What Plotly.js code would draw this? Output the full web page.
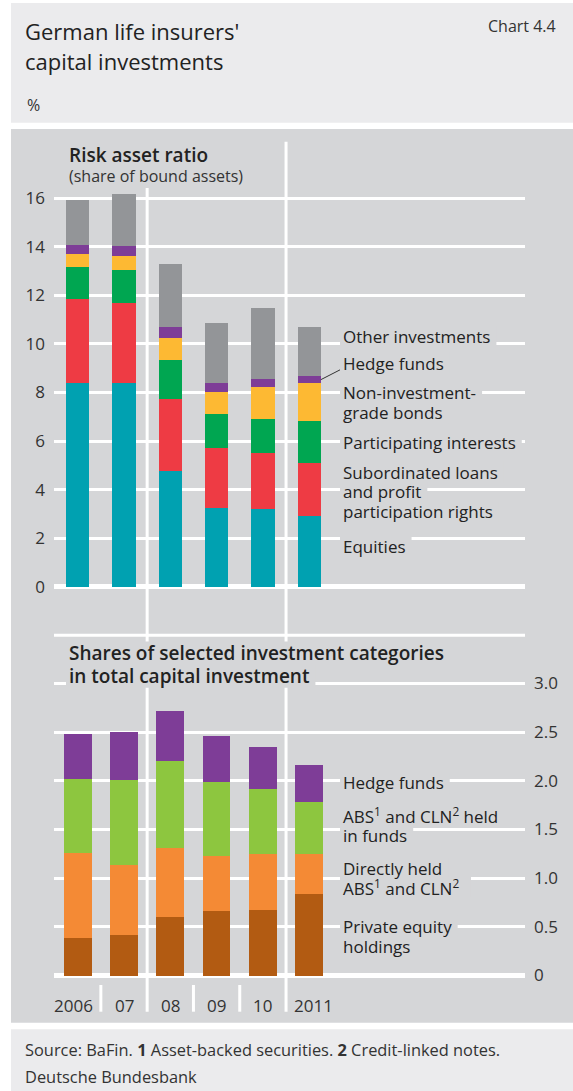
<!DOCTYPE html>
<html><head><meta charset="utf-8">
<script src="https://cdn.plot.ly/plotly-3.0.1.min.js"></script>
<style>html,body{margin:0;padding:0;background:#fff;}#chart{width:573px;height:1091px;}</style>
</head><body><div id="chart"></div>
<script>
// ---------- DATA ----------
const years = ["2006", "07", "08", "09", "10", "2011"];
// Risk asset ratio (share of bound assets), %
const equities       = [8.38, 8.38, 4.77, 3.23, 3.19, 2.93];
const subLoans       = [3.46, 3.30, 2.98, 2.50, 2.32, 2.15];
const participating  = [1.33, 1.36, 1.58, 1.37, 1.39, 1.76];
const nonInvGrade    = [0.53, 0.60, 0.93, 0.92, 1.34, 1.55];
const hedgeFundsTop  = [0.37, 0.40, 0.43, 0.36, 0.32, 0.28];
const otherInv       = [1.86, 2.16, 2.59, 2.47, 2.94, 2.04];
// Shares of selected investment categories in total capital investment, %
const privateEquity  = [0.39, 0.42, 0.60, 0.66, 0.67, 0.84];
const directABS      = [0.87, 0.71, 0.71, 0.57, 0.575, 0.41];
const fundsABS       = [0.76, 0.88, 0.89, 0.76, 0.67, 0.53];
const hedgeFundsBot  = [0.46, 0.49, 0.52, 0.47, 0.435, 0.38];

const topTickVals  = [0, 2, 4, 6, 8, 10, 12, 14, 16];
const topTickText  = ["0", "2", "4", "6", "8", "10", "12", "14", "16"];
const botTickVals  = [0, 0.5, 1, 1.5, 2, 2.5, 3];
const botTickText  = ["0", "0.5", "1.0", "1.5", "2.0", "2.5", "3.0"];
const topExtraGrid = -2;

const topNames = [["Equities"], ["Subordinated loans", "and profit", "participation rights"],
  ["Participating interests"], ["Non-investment-", "grade bonds"], ["Hedge funds"], ["Other investments"]];
const botNames = [["Private equity", "holdings"], ["Directly held", "ABS<sup>1</sup> and CLN<sup>2</sup>"],
  ["ABS<sup>1</sup> and CLN<sup>2</sup> held", "in funds"], ["Hedge funds"]];

const titleLines = ["German life insurers'", "capital investments"];
const chartNo = "Chart 4.4";
const unitLabel = "%";
const topTitle = "Risk asset ratio";
const topSubtitle = "(share of bound assets)";
const botTitleLines = ["Shares of selected investment categories", "in total capital investment"];
const footLines = ["Source: BaFin. <b>1</b> Asset-backed securities. <b>2</b> Credit-linked notes.", "Deutsche Bundesbank"];

// ---------- LAYOUT HELPERS ----------
const W = 573, H = 1091;
const PX = p => p / W, PY = p => 1 - p / H;
const FONT = "Open Sans, Noto Sans, sans-serif";
const PANEL = "#d5d6d8", LIGHT = "#ebebed";
const xIdx = years.map((_, i) => i);

const topColors = ["#00a1b1", "#ee3b44", "#00a651", "#fdb933", "#7e3d97", "#939598"];
const botColors = ["#b25b12", "#f48a35", "#8dc63f", "#7e3d97"];
const topSeries = [equities, subLoans, participating, nonInvGrade, hedgeFundsTop, otherInv];
const botSeries = [privateEquity, directABS, fundsABS, hedgeFundsBot];

const traces = [];
topSeries.forEach((s, k) => traces.push({type: "bar", x: xIdx, y: s, xaxis: "x", yaxis: "y",
  marker: {color: topColors[k], line: {width: 0}}, width: 0.503, name: topNames[k].join(" "), hoverinfo: "skip"}));
botSeries.forEach((s, k) => traces.push({type: "bar", x: xIdx, y: s, xaxis: "x2", yaxis: "y2",
  marker: {color: botColors[k], line: {width: 0}}, width: 0.598, name: botNames[k].join(" ").replace(/<[^>]+>/g, ""), hoverinfo: "skip"}));

// axis geometry (pixels)
const xL = 54, xR = 525, c0 = 77.7, step = 46.3;
const xRange = [(xL - c0) / step, (xR - c0) / step];
const topZero = 586.7, topUnit = 24.27, topRange = [-2.2, 16.6];
const botZero = 975.5, botUnit = 97.4, botRange = [-0.2, 3.2];
const topDom = [PY(topZero - topRange[0] * topUnit), PY(topZero - topRange[1] * topUnit)];
const botDom = [PY(botZero - botRange[0] * botUnit), PY(botZero - botRange[1] * botUnit)];

const shapes = [
  {type: "rect", xref: "paper", yref: "paper", x0: PX(11), x1: 1, y0: PY(122.7), y1: PY(3), fillcolor: LIGHT, line: {width: 0}, layer: "below"},
  {type: "rect", xref: "paper", yref: "paper", x0: PX(11), x1: 1, y0: PY(1022.7), y1: PY(129), fillcolor: PANEL, line: {width: 0}, layer: "below"},
  {type: "rect", xref: "paper", yref: "paper", x0: PX(11), x1: 1, y0: 0, y1: PY(1029.3), fillcolor: LIGHT, line: {width: 0}, layer: "below"},
  {type: "line", xref: "paper", yref: "y", x0: PX(xL), x1: PX(xR), y0: topExtraGrid, y1: topExtraGrid, line: {color: "#ffffff", width: 3}, layer: "below"},
];
// dividers between years
for (let i = 0; i < years.length - 1; i++) {
  const longLine = (i === 1 || i === 4);
  const yTop = i === 4 ? 141.7 : 188;
  shapes.push({type: "line", xref: "x", yref: "paper", x0: i + 0.5, x1: i + 0.5,
    y0: PY(1011.7), y1: PY(longLine ? yTop : 985), line: {color: "#ffffff", width: 3}, layer: "below"});
}
// leader line for Hedge funds (top chart, last bar)
const last = years.length - 1;
const hedgeMid = equities[last] + subLoans[last] + participating[last] + nonInvGrade[last] + hedgeFundsTop[last] / 2;
shapes.push({type: "line", xref: "x", yref: "y", xsizemode: "pixel", ysizemode: "pixel",
  xanchor: last + 0.2515, yanchor: hedgeMid, x0: 0, x1: 19.5, y0: 0, y1: 10, line: {color: "#333", width: 1}});

// text measurement for background masks behind labels (gridline interruptions)
const ctx = document.createElement("canvas").getContext("2d");
function textWidth(t, size, weight) {
  ctx.font = `${weight} ${size}px "Open Sans"`;
  return ctx.measureText(t.replace(/<[^>]+>/g, "")).width;
}
const texts = [];
function txt(t, x, y, size, opts = {}) {
  const weight = opts.weight || 400;
  texts.push(Object.assign({text: t, xref: "paper", yref: "paper", x: PX(x), y: PY(y), xanchor: "left", yanchor: "middle",
    showarrow: false, borderpad: 2, borderwidth: 0,
    font: {family: FONT, size: size, color: opts.color || "#222", weight: weight}}, opts.extra || {}));
  if (opts.mask) {
    const w = textWidth(t, size, weight);
    shapes.push({type: "rect", xref: "paper", yref: "paper", x0: PX(x - 1), x1: PX(x + 4 + w + 4),
      y0: PY(y + size * 0.62), y1: PY(y - size * 0.62), fillcolor: PANEL, line: {width: 0}, layer: "above"});
  }
}
txt(titleLines[0], 23, 31, 22);
txt(titleLines[1], 23, 61, 22);
txt(chartNo, 558, 26, 16, {color: "#333", extra: {xanchor: "right"}});
txt(unitLabel, 25, 105, 16, {color: "#333"});
txt(topTitle, 67, 155, 19, {weight: 600});
txt(topSubtitle, 67, 176, 16, {color: "#333"});
botTitleLines.forEach((t, k) => txt(t, 67, [653.3, 676][k], 19, {weight: 600, mask: true}));

const topLabelY = [[546], [472.3, 491.7, 511.7], [442.7], [392.7, 412.7], [363.3], [336.7]];
topNames.forEach((lines, k) => lines.forEach((t, j) => txt(t, 341, topLabelY[k][j], 17, {mask: true})));
const botLabelY = [[926, 946], [868.3, 887.3], [815, 835], [782.7]];
botNames.forEach((lines, k) => lines.forEach((t, j) => txt(t, 341, botLabelY[k][j], 17, {mask: true})));

years.forEach((y, i) => {
  const first = i === 0, lst = i === years.length - 1;
  texts.push({text: y, xref: "x2", yref: "paper", x: first ? i + 0.34 : (lst ? i - 0.32 : i), y: PY(1005),
    xanchor: first ? "right" : (lst ? "left" : "center"), yanchor: "middle", showarrow: false, borderpad: 0, borderwidth: 0,
    font: {family: FONT, size: 17, color: "#333"}});
});
txt(footLines[0], 23, 1049, 16.4, {color: "#333"});
txt(footLines[1], 23, 1076, 16.4, {color: "#333"});

const gridStyle = {showgrid: true, gridcolor: "#ffffff", gridwidth: 3, zeroline: true, zerolinecolor: "#ffffff",
  zerolinewidth: 5, showline: false, ticks: "", tickfont: {family: FONT, size: 17, color: "#333"}, fixedrange: true};

const layout = {
  width: W, height: H, margin: {l: 0, r: 0, t: 0, b: 0},
  paper_bgcolor: "#ffffff", plot_bgcolor: "rgba(0,0,0,0)",
  barmode: "stack", showlegend: false,
  xaxis: {domain: [PX(xL), PX(xR)], range: xRange, anchor: "y", visible: false, fixedrange: true},
  xaxis2: {domain: [PX(xL), PX(xR)], range: xRange, anchor: "y2", matches: "x", visible: false, fixedrange: true},
  yaxis: Object.assign({}, gridStyle, {domain: topDom, range: topRange, anchor: "x", side: "left",
    tickmode: "array", tickvals: topTickVals, ticktext: topTickText, ticklabelstandoff: 8}),
  yaxis2: Object.assign({}, gridStyle, {domain: botDom, range: botRange, anchor: "x2", side: "right",
    tickmode: "array", tickvals: botTickVals, ticktext: botTickText, ticklabelstandoff: 8}),
  shapes: shapes, annotations: texts
};
Plotly.newPlot("chart", traces, layout, {staticPlot: true, displayModeBar: false});
</script></body></html>
